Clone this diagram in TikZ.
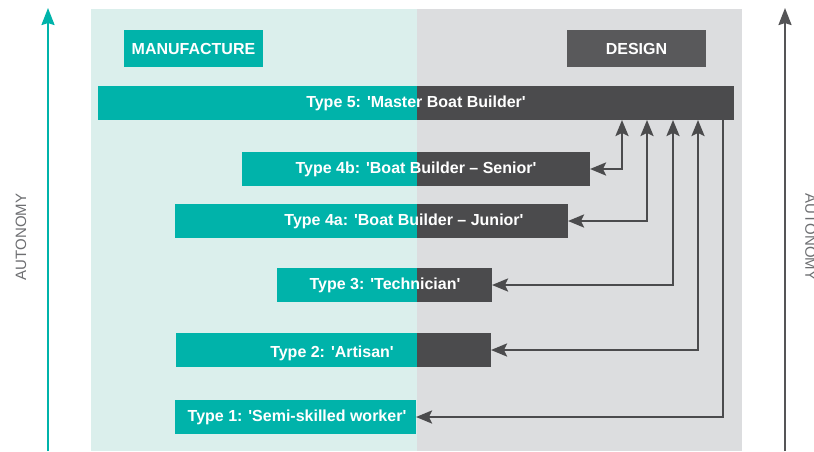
\documentclass[tikz,border=0pt]{standalone}
\usepackage{fontspec}
\setmainfont{Liberation Sans}
\usetikzlibrary{arrows.meta}
\definecolor{tealc}{HTML}{00B3AA}
\definecolor{tealbg}{HTML}{DBEFEC}
\definecolor{greybg}{HTML}{DCDDDF}
\definecolor{darkc}{HTML}{4B4B4D}
\definecolor{designc}{HTML}{59595B}
\definecolor{axisgrey}{HTML}{555557}
\definecolor{labelgrey}{HTML}{6D6E71}
\newcommand{\sq}{\textquotesingle}
\tikzset{
  bar/.style={inner sep=0pt, outer sep=0pt, anchor=north west},
  tealbar/.style={bar, fill=tealc},
  darkbar/.style={bar, fill=darkc},
  bartext/.style={text=white, font=\fontsize{16}{19}\selectfont\bfseries, inner sep=0pt},
  conn/.style={draw=darkc, line width=2.4pt, line cap=butt, line join=miter},
  axislabel/.style={text=labelgrey, font=\fontsize{15}{18}\selectfont, inner sep=0pt}
}
\begin{document}
\begin{tikzpicture}[x=1pt, y=-1pt]
\useasboundingbox (0,0) rectangle (814,451);
% background panels
\fill[tealbg] (91,9) rectangle (417,451);
\fill[greybg] (417,9) rectangle (742,451);
% axes
\coordinate (la0) at (48,451);
\coordinate (la1) at (48,8);
\coordinate (ra0) at (785,451);
\coordinate (ra1) at (785,8);
\draw[tealc, line width=2.2pt, -{Stealth[length=17pt, width=13pt, inset=2pt]}] (la0) -- (la1);
\draw[axisgrey, line width=2.2pt, -{Stealth[length=17pt, width=13pt, inset=2pt]}] (ra0) -- (ra1);
\node[axislabel, rotate=90] (lab1) at (21,237) {AUTONOMY};
\node[axislabel, rotate=-90, anchor=south] (lab2) at (805,237) {AUTONOMY};
% header boxes
\node[tealbar, minimum width=139pt, minimum height=37pt] (manu) at (124,30) {};
\node[bartext] (manut) at (manu.center) {MANUFACTURE};
\node[bar, fill=designc, minimum width=139pt, minimum height=37pt] (des) at (567,30) {};
\node[bartext] (dest) at (des.center) {DESIGN};
% Type 5
\node[tealbar, minimum width=319pt, minimum height=34pt] (t5a) at (98,86) {};
\node[darkbar, minimum width=317pt, minimum height=34pt] (t5b) at (417,86) {};
\node[bartext] (t5t) at (416,103) {Type 5: \sq Master Boat Builder\sq};
% Type 4b
\node[tealbar, minimum width=175pt, minimum height=34pt] (t4ba) at (242,152) {};
\node[darkbar, minimum width=173pt, minimum height=34pt] (t4bb) at (417,152) {};
\node[bartext] (t4bt) at (416,169) {Type 4b: \sq Boat Builder – Senior\sq};
% Type 4a
\node[tealbar, minimum width=242pt, minimum height=34pt] (t4aa) at (175,204) {};
\node[darkbar, minimum width=151pt, minimum height=34pt] (t4ab) at (417,204) {};
\node[bartext] (t4at) at (404,221) {Type 4a: \sq Boat Builder – Junior\sq};
% Type 3
\node[tealbar, minimum width=140pt, minimum height=34pt] (t3a) at (277,268) {};
\node[darkbar, minimum width=75pt, minimum height=34pt] (t3b) at (417,268) {};
\node[bartext] (t3t) at (385,285) {Type 3: \sq Technician\sq};
% Type 2
\node[tealbar, minimum width=241pt, minimum height=34pt] (t2a) at (176,333) {};
\node[darkbar, minimum width=74pt, minimum height=34pt] (t2b) at (417,333) {};
\node[bartext] (t2t) at (332,353) {Type 2: \sq Artisan\sq};
% Type 1
\node[tealbar, minimum width=241pt, minimum height=34pt] (t1a) at (175,400) {};
\node[bartext] (t1t) at (297,417) {Type 1: \sq Semi-skilled worker\sq};
% connector columns
\coordinate (c1) at (622,0);
\coordinate (c2) at (647,0);
\coordinate (c3) at (673,0);
\coordinate (c4) at (698,0);
\coordinate (c5) at (723,0);
% connectors
\draw[conn, {Stealth[length=16pt, width=13pt, inset=3pt]}-{Stealth[length=16pt, width=13pt, inset=3pt]}] (t4bb.east) -| (t5b.south -| c1);
\draw[conn, {Stealth[length=16pt, width=13pt, inset=3pt]}-{Stealth[length=16pt, width=13pt, inset=3pt]}] (t4ab.east) -| (t5b.south -| c2);
\draw[conn, {Stealth[length=16pt, width=13pt, inset=3pt]}-{Stealth[length=16pt, width=13pt, inset=3pt]}] (t3b.east) -| (t5b.south -| c3);
\draw[conn, {Stealth[length=16pt, width=13pt, inset=3pt]}-{Stealth[length=16pt, width=13pt, inset=3pt]}] (t2b.east) -| (t5b.south -| c4);
\draw[conn, {Stealth[length=16pt, width=13pt, inset=3pt]}-] (t1a.east) -| (t5b.south -| c5);
\end{tikzpicture}
\end{document}
